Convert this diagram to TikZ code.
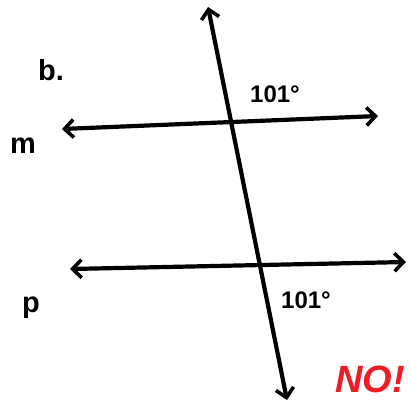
\documentclass[tikz,border=0pt]{standalone}
\usepackage{fontspec}
\setmainfont{Liberation Sans}
\usetikzlibrary{arrows.meta}
\definecolor{nored}{HTML}{EE1C25}
\begin{document}
\begin{tikzpicture}[x=1pt,y=-1pt,
  ln/.style={line width=4.2pt, line cap=round, {Straight Barb[length=9pt,width=18pt,line width=3.6pt]}-{Straight Barb[length=9pt,width=18pt,line width=3.6pt]}},
  lbl/.style={font=\fontsize{29}{31}\selectfont\bfseries, inner sep=0pt},
  ang/.style={font=\fontsize{24}{26}\selectfont\bfseries, inner sep=0pt}]
\useasboundingbox (0,0) rectangle (409,404);
\coordinate (tTop) at (208,7);
\coordinate (tBot) at (287,400);
\coordinate (mL) at (62,129);
\coordinate (mR) at (378,116);
\coordinate (pL) at (70,269);
\coordinate (pR) at (406,262);
\draw[ln] (mL) -- (mR);
\draw[ln] (pL) -- (pR);
\draw[ln] (tTop) -- (tBot);
\node[lbl] (b) at (51,70) {b.};
\node[lbl] (m) at (23,146) {m};
\node[lbl] (p) at (31,308) {p};
\node[ang] (a1) at (275,94) {101°};
\node[ang] (a2) at (306,300) {101°};
\node[font=\fontsize{38}{40}\selectfont\bfseries\itshape, text=nored, inner sep=0pt] (no) at (370,379) {NO!};
\end{tikzpicture}
\end{document}
